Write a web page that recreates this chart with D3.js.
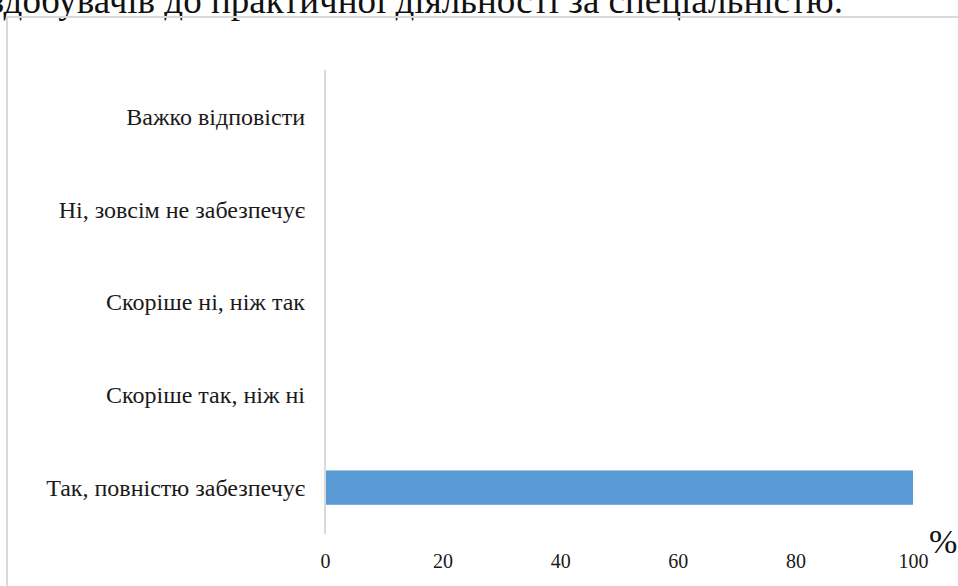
<!DOCTYPE html>
<html>
<head>
<meta charset="utf-8">
<script src="https://cdn.jsdelivr.net/npm/d3@7"></script>
<style>
    body { margin: 0; background: #fff; overflow: hidden; }
</style>
</head>
<body>
<div id="chart"></div>
<script>
// answers, top to bottom as drawn
var categories = ["Важко відповісти", "Ні, зовсім не забезпечує", "Скоріше ні, ніж так",
    "Скоріше так, ніж ні", "Так, повністю забезпечує"];
var values = [0, 0, 0, 0, 100];
var xTicks = [0, 20, 40, 60, 80, 100];
var captionText = "здобувачів до практичної діяльності за спеціальністю.";

var width = 958, height = 586;
var margin = { left: 325, right: 45, top: 70, bottom: 52 };
var serif = "'Liberation Serif', 'Times New Roman', serif";

var svg = d3.select("#chart")
    .append("svg")
    .attr("width", width)
    .attr("height", height);

// caption line above the chart, cut by the top of the picture
svg.append("text")
    .attr("x", 843)
    .attr("y", 13)
    .attr("text-anchor", "end")
    .style("font-family", serif)
    .style("font-size", "37px")
    .attr("fill", "#111")
    .text(captionText);

// chart frame
svg.append("rect")
    .attr("x", 7)
    .attr("y", 17)
    .attr("width", width + 20)
    .attr("height", height)
    .attr("fill", "none")
    .attr("stroke", "#d9d9d9")
    .attr("stroke-width", 2);

var x = d3.scaleLinear()
    .domain([0, 100])
    .range([margin.left, width - margin.right]);
var y = d3.scaleBand()
    .domain(categories)
    .range([margin.top, height - margin.bottom])
    .paddingInner(0.63)
    .paddingOuter(0.315);

// bars
svg.selectAll("rect.bar")
    .data(values)
    .enter()
    .append("rect")
    .attr("class", "bar")
    .attr("x", x(0))
    .attr("y", (d, i) => y(categories[i]))
    .attr("width", d => x(d) - x(0))
    .attr("height", y.bandwidth())
    .attr("fill", "#5b9bd5");

// vertical axis line
svg.append("line")
    .attr("x1", x(0))
    .attr("x2", x(0))
    .attr("y1", margin.top)
    .attr("y2", height - margin.bottom)
    .attr("stroke", "#d9d9d9")
    .attr("stroke-width", 2);

// category labels
svg.selectAll("text.cat")
    .data(categories)
    .enter()
    .append("text")
    .attr("class", "cat")
    .attr("x", 305)
    .attr("y", d => y(d) + y.bandwidth() / 2)
    .attr("dy", "0.35em")
    .attr("text-anchor", "end")
    .style("font-family", serif)
    .style("font-size", "24px")
    .attr("fill", "#1a1a1a")
    .text(d => d);

// x axis tick labels
var xAxis = svg.append("g")
    .attr("transform", "translate(0," + (height - margin.bottom) + ")")
    .call(d3.axisBottom(x).tickValues(xTicks).tickSize(0).tickPadding(20));
xAxis.select(".domain").remove();
xAxis.selectAll("text")
    .style("font-family", serif)
    .style("font-size", "20px")
    .attr("fill", "#1a1a1a");

// unit sign
svg.append("text")
    .attr("x", 929)
    .attr("y", 553)
    .style("font-family", serif)
    .style("font-size", "34px")
    .attr("fill", "#111")
    .text("%");
</script>
</body>
</html>
